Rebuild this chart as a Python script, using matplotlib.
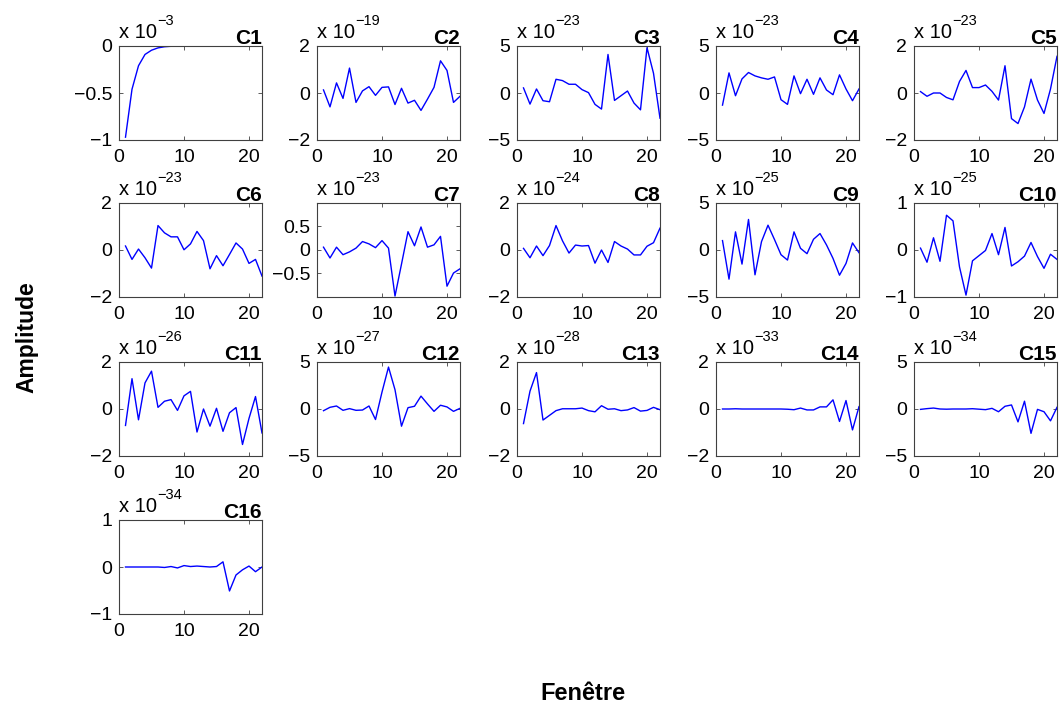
import numpy as np
import matplotlib
matplotlib.use("Agg")
import matplotlib.pyplot as plt

plt.rcParams['font.family'] = ['Liberation Sans', 'DejaVu Sans']

fenetre = np.arange(1, 23)

# values in units of 10^exp
c1 = [-0.97, -0.46, -0.21, -0.09, -0.045, -0.02, -0.008, -0.003, -0.001, 0, 0,
      0, 0, 0, 0, 0, 0, 0, 0, 0, 0, 0]
c2 = [0.13, -0.59, 0.43, -0.23, 1.06, -0.4, 0.09, 0.27, -0.1, 0.24, 0.26,
      -0.49, 0.2, -0.43, -0.31, -0.74, -0.26, 0.24, 1.37, 0.96, -0.4, -0.14]
c3 = [0.54, -1.18, 0.43, -0.82, -0.93, 1.46, 1.32, 0.93, 0.93, 0.36, 0.04,
      -1.21, -1.71, 4.1, -0.79, -0.29, 0.21, -1.07, -1.79, 4.82, 2.1, -2.68]
c4 = [-1.29, 2.14, -0.29, 1.5, 2.18, 1.82, 1.61, 1.46, 1.71, -0.71, -1.21,
      1.82, -0.07, 1.46, -0.14, 1.61, 0.32, -0.18, 1.93, 0.43, -0.82, 0.43]
c5 = [0.06, -0.14, 0.0, 0.0, -0.19, -0.29, 0.49, 0.96, 0.23, 0.23, 0.34,
      0.07, -0.3, 1.16, -1.09, -1.3, -0.59, 0.59, -0.3, -0.87, 0.17, 1.56]
c6 = [0.17, -0.4, 0.04, -0.33, -0.77, 1.04, 0.73, 0.56, 0.56, 0.01, 0.26,
      0.79, 0.4, -0.8, -0.24, -0.67, -0.19, 0.3, 0.04, -0.57, -0.4, -1.11]
c7 = [0.06, -0.17, 0.06, -0.1, -0.04, 0.04, 0.18, 0.13, 0.05, 0.2, 0.04,
      -0.98, -0.3, 0.39, 0.09, 0.49, 0.06, 0.11, 0.29, -0.77, -0.49, -0.4]
c8 = [0.07, -0.33, 0.17, -0.24, 0.19, 1.04, 0.39, -0.13, 0.21, 0.17, 0.19,
      -0.56, 0.0, -0.53, 0.36, 0.17, 0.04, -0.21, -0.21, 0.16, 0.31, 0.93]
c9 = [1.0, -3.1, 1.93, -1.5, 3.25, -2.64, 0.89, 2.64, 1.11, -0.5, -1.07,
      1.93, 0.18, -0.39, 1.14, 1.75, 0.54, -0.89, -2.68, -1.43, 0.75, -0.29]
c10 = [0.04, -0.26, 0.26, -0.24, 0.74, 0.62, -0.36, -0.96, -0.23, -0.12, -0.01,
       0.35, -0.1, 0.48, -0.34, -0.25, -0.13, 0.16, -0.14, -0.39, -0.09, -0.2]
c11 = [-0.7, 1.29, -0.46, 1.11, 1.61, 0.07, 0.33, 0.4, -0.06, 0.56, 0.75,
       -0.98, 0.0, -0.73, 0.03, -0.95, -0.16, 0.06, -1.51, -0.4, 0.53, -1.02]
c12 = [-0.18, 0.18, 0.32, -0.14, 0.04, -0.14, -0.11, 0.32, -1.12, 1.8, 4.46,
       2.05, -1.83, 0.14, 0.29, 1.37, 0.54, -0.25, 0.4, 0.22, -0.25, 0.07]
c13 = [-0.62, 0.76, 1.55, -0.47, -0.27, -0.07, 0.01, 0.01, 0.01, 0.04, -0.07,
       -0.12, 0.14, -0.01, 0.01, -0.07, -0.04, 0.06, -0.09, -0.06, 0.07, -0.03]
c14 = [0.0, 0.0, 0.01, 0.0, 0.0, 0.0, 0.0, 0.0, 0.0, 0.0, -0.01,
       -0.03, 0.04, -0.04, -0.04, 0.09, 0.09, 0.39, -0.53, 0.36, -0.89, 0.1]
c15 = [-0.04, 0.04, 0.1, 0.0, -0.02, 0.0, 0.0, 0.0, 0.03, -0.02, -0.07,
       0.07, -0.29, 0.29, 0.43, -1.37, 0.83, -2.59, -0.04, -0.29, -1.26, 0.18]
c16 = [0.0, 0.0, 0.0, 0.0, 0.0, 0.0, -0.01, 0.01, -0.02, 0.03, 0.01,
       0.02, 0.01, 0.0, 0.01, 0.11, -0.51, -0.17, -0.06, 0.02, -0.1, 0.0]

series = [c1, c2, c3, c4, c5, c6, c7, c8, c9, c10, c11, c12, c13, c14, c15, c16]
exponents = [-3, -19, -23, -23, -23, -23, -23, -24, -25, -25, -26, -27, -28, -33, -34, -34]
ylims = [1, 2, 5, 5, 2, 2, 1, 2, 5, 1, 2, 5, 2, 2, 5, 1]
names = ['C%d' % (i + 1) for i in range(16)]

W, H = 1059, 706
fig = plt.figure(figsize=(W / 100, H / 100), dpi=100)

lefts = [119, 317, 517, 716, 914]
tops = [46, 203, 362, 520]
aw, ah = 143, 94
edge = '#404040'

for i, (vals, ex, lim, name) in enumerate(zip(series, exponents, ylims, names)):
    r, c = divmod(i, 5)
    ax = fig.add_axes([lefts[c] / W, 1 - (tops[r] + ah) / H, aw / W, ah / H])
    ax.plot(fenetre, vals, color='#0000ff', lw=1.0)
    ax.set_xlim(0, 22)
    ax.set_xticks([0, 10, 20])
    if i == 0:
        ax.set_ylim(-1, 0)
        ax.set_yticks([-1, -0.5, 0])
        ax.set_yticklabels(['\u22121', '\u22120.5', '0'])
    elif i == 6:
        ax.set_ylim(-1, 1)
        ax.set_yticks([-0.5, 0, 0.5])
        ax.set_yticklabels(['\u22120.5', '0', '0.5'])
    else:
        ax.set_ylim(-lim, lim)
        ax.set_yticks([-lim, 0, lim])
        ax.set_yticklabels(['\u2212%d' % lim, '0', '%d' % lim])
    ax.tick_params(direction='in', length=3, width=0.6, colors=edge,
                   labelcolor='black', labelsize=14, top=True, right=True)
    ax.tick_params(axis='y', pad=5)
    ax.tick_params(axis='x', pad=6.5)
    for sp in ax.spines.values():
        sp.set_color(edge)
        sp.set_linewidth(0.8)
    ax.set_title(name, loc='right', fontweight='bold', fontsize=15, pad=1.5)
    base = ax.annotate('x 10', xy=(0, 1), xycoords='axes fraction',
                       xytext=(0, 6), textcoords='offset points',
                       ha='left', va='baseline', fontsize=14.5)
    ax.annotate('\u2212%d' % abs(ex), xy=(1, 1), xycoords=base,
                xytext=(0.5, -3.5), textcoords='offset points',
                ha='left', va='bottom', fontsize=10.5)

fig.text(27 / W, 1 - 337 / H, 'Amplitude', rotation=90, ha='center', va='center',
         fontsize=16.5, fontweight='bold')
fig.text(583 / W, 1 - 693 / H, 'Fenêtre', ha='center', va='center',
         fontsize=17, fontweight='bold')

fig.savefig('out.png', dpi=100)
